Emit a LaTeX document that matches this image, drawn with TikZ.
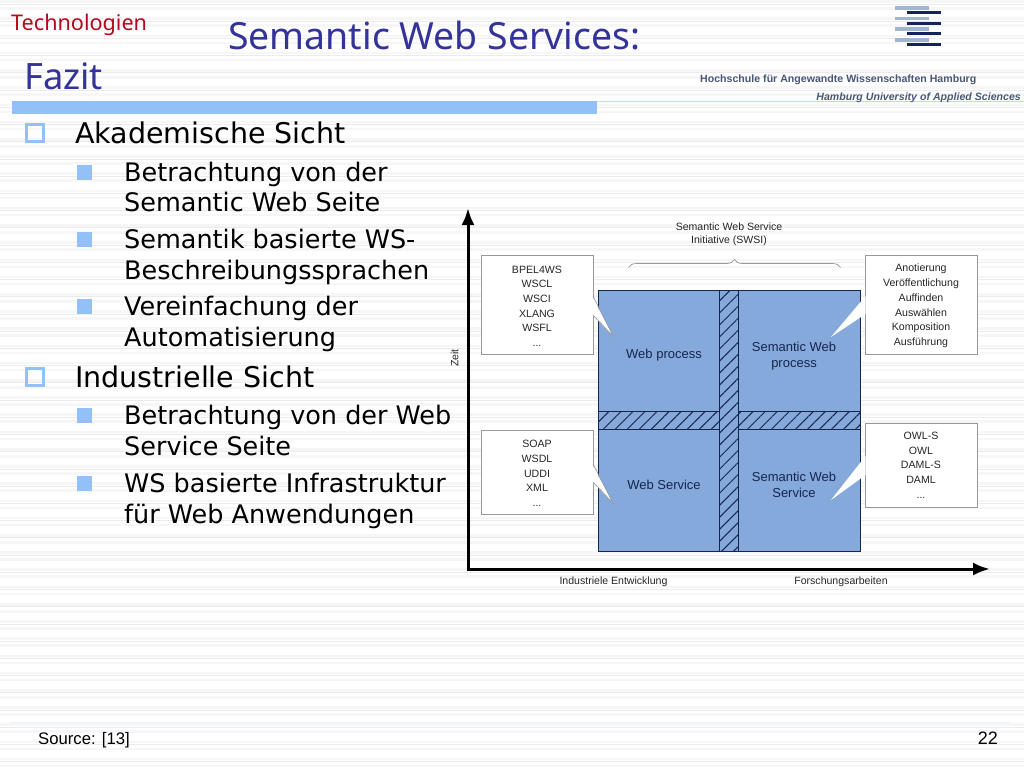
\documentclass[tikz,border=0pt]{standalone}
\usepackage{fontspec}
\setmainfont{Liberation Sans}
\newfontfamily\bodyfont{DejaVu Sans}
\newfontfamily\headfont{Noto Sans}
\usetikzlibrary{patterns.meta,decorations.pathreplacing,arrows.meta}
\definecolor{barblue}{HTML}{94C0F8}
\definecolor{boxblue}{HTML}{86A9DC}
\definecolor{edgeblue}{HTML}{14264E}
\definecolor{titleblue}{HTML}{333399}
\definecolor{techred}{HTML}{B5091E}
\definecolor{logolight}{HTML}{A2B5CE}
\definecolor{logodark}{HTML}{14235E}
\definecolor{logotext}{HTML}{4A5878}
\definecolor{stripelight}{HTML}{F6F6F7}
\definecolor{stripedark}{HTML}{EBEBED}
\newcommand{\firstline}{\rule{0pt}{10.5pt}}
\tikzset{
  quad/.style={draw=edgeblue, fill=boxblue, line width=1pt},
  hatchband/.style={draw=edgeblue, fill=boxblue, line width=1pt, postaction={pattern={Lines[angle=45, distance=8.5pt, line width=1pt]}, pattern color=edgeblue}},
  callbox/.style={draw=gray!80, fill=white, line width=.8pt, inner sep=0pt, font=\fontsize{10.6}{14.7}\selectfont, align=center, text=black!85},
  tiny/.style={font=\fontsize{10.55}{13}\selectfont, align=center, text=black!85},
  boxlabel/.style={font=\fontsize{13}{16}\selectfont, align=center, text=edgeblue},
  bigtext/.style={anchor=base west, font=\bodyfont\fontsize{28.5}{30}\selectfont, inner sep=0pt},
  subtext/.style={anchor=base west, font=\bodyfont\fontsize{25.5}{30.5}\selectfont, inner sep=0pt},
  bigmark/.style={draw=barblue, line width=3pt, minimum size=17pt, inner sep=0pt},
  submark/.style={fill=barblue, minimum size=15pt, inner sep=0pt},
  axisline/.style={line width=3pt, shorten <=-1.5pt, -{Latex[length=17pt, width=13pt]}},
}
\begin{document}
\begin{tikzpicture}[x=1pt, y=-1pt]
  \useasboundingbox (0, 0) rectangle (1024, 768) ;
  \fill[white] (0, 0) rectangle (1024, 768) ;
  \foreach \row in {0, 1, ..., 44} {
    \fill[stripelight] (0, 17.22 * \row + 2.8) rectangle ++ (1024, -2.6) ;
    \fill[stripedark] (0, 17.22 * \row + 4.6) rectangle ++ (1024, -1) ;
    \fill[stripelight] (0, 17.22 * \row + 9.8) rectangle ++ (1024, -2.6) ;
  }

  \fill[barblue] (12, 101) rectangle (597, 114) ;
  \fill[barblue!60] (597, 101) rectangle (1024, 102) ;
  \fill[barblue!20] (10, 721.5) rectangle (1010, 723) ;

  \node[anchor=base west, inner sep=0pt, text=techred, font=\headfont\fontsize{21.6}{24}\selectfont] (section) at (11, 30.5) {Technologien} ;
  \node[anchor=base west, inner sep=0pt, text=titleblue, font=\headfont\fontsize{37.4}{40}\selectfont] (title) at (228, 49) {Semantic Web Services:} ;
  \node[anchor=base west, inner sep=0pt, text=titleblue, font=\headfont\fontsize{36.3}{40}\selectfont] (subtitle) at (24, 89) {Fazit} ;

  \foreach \ypos in {8, 18.5, 29, 40} {
    \fill[logolight] (895, \ypos - 1.8) rectangle (929, \ypos + 1.8) ;
    \fill[logodark] (907, \ypos + 3.2) rectangle (941, \ypos + 6.4) ;
  }
  \node[anchor=base west, inner sep=0pt, text=logotext, font=\fontsize{10.6}{13}\selectfont\bfseries] (school) at (700, 82) {Hochschule für Angewandte Wissenschaften Hamburg} ;
  \node[anchor=base east, inner sep=0pt, text=logotext, font=\fontsize{10.6}{13}\selectfont\bfseries\itshape] (schoolen) at (1021, 100) {Hamburg University of Applied Sciences} ;

  \node[bigmark] (mark1) at (35, 132.5) {} ;
  \node[bigtext] (akad) at (75, 143) {Akademische Sicht} ;
  \node[submark] (mark2) at (84.5, 172) {} ;
  \node[subtext] (akad1a) at (124, 181) {Betrachtung von der} ;
  \node[subtext] (akad1b) at (124, 211) {Semantic Web Seite} ;
  \node[submark] (mark3) at (84.5, 239) {} ;
  \node[subtext] (akad2a) at (124, 248) {Semantik basierte WS-} ;
  \node[subtext] (akad2b) at (124, 279) {Beschreibungssprachen} ;
  \node[submark] (mark4) at (84.5, 306) {} ;
  \node[subtext] (akad3a) at (124, 315) {Vereinfachung der} ;
  \node[subtext] (akad3b) at (124, 346) {Automatisierung} ;
  \node[bigmark] (mark5) at (35, 376.5) {} ;
  \node[bigtext] (indu) at (75, 387) {Industrielle Sicht} ;
  \node[submark] (mark6) at (84.5, 415) {} ;
  \node[subtext] (indu1a) at (124, 424) {Betrachtung von der Web} ;
  \node[subtext] (indu1b) at (124, 455) {Service Seite} ;
  \node[submark] (mark7) at (84.5, 483) {} ;
  \node[subtext] (indu2a) at (124, 492) {WS basierte Infrastruktur} ;
  \node[subtext] (indu2b) at (124, 523) {für Web Anwendungen} ;

  \coordinate (origin) at (468, 569) ;
  \coordinate (timeend) at (468, 208) ;
  \coordinate (workend) at (990, 569) ;
  \draw[axisline] (origin) -- (timeend) ;
  \draw[axisline] (origin) -- (workend) ;
  \node[tiny, rotate=90] (zeit) at (454.5, 358) {Zeit} ;
  \node[tiny] (industry) at (613.5, 582) {Industriele Entwicklung} ;
  \node[tiny] (research) at (841, 582) {Forschungsarbeiten} ;

  \node[tiny] (swsi) at (729, 234) {Semantic Web Service\\Initiative (SWSI)} ;
  \coordinate (braceleft) at (628.5, 267.5) ;
  \coordinate (braceright) at (840.5, 267.5) ;
  \draw[gray!80, line width=.7pt, decorate, decoration={brace, amplitude=8pt}] (braceleft) -- (braceright) ;

  \draw[quad] (598, 290) rectangle (860, 551) ;
  \draw[hatchband] (598, 411) rectangle (860, 429.5) ;
  \draw[hatchband] (719.5, 290) rectangle (738.5, 551) ;
  \node[boxlabel] (webproc) at (664, 355.5) {Web process} ;
  \node[boxlabel] (semproc) at (794, 356) {Semantic Web\\process} ;
  \node[boxlabel] (webserv) at (664, 485) {Web Service} ;
  \node[boxlabel] (semserv) at (794, 485) {Semantic Web\\Service} ;

  \node[callbox, minimum width=112pt, minimum height=99pt] (lang) at (537, 304.5) {\firstline BPEL4WS\\WSCL\\WSCI\\XLANG\\WSFL\\...} ;
  \node[callbox, minimum width=112pt, minimum height=99pt] (tasks) at (921, 304.5) {\firstline Anotierung\\Veröffentlichung\\Auffinden\\Auswählen\\Komposition\\Ausführung} ;
  \node[callbox, minimum width=112pt, minimum height=84pt] (infra) at (537, 472) {\firstline SOAP\\WSDL\\UDDI\\XML\\...} ;
  \node[callbox, minimum width=112pt, minimum height=84pt] (onto) at (921, 465) {OWL-S\\OWL\\DAML-S\\DAML\\...} ;

  \fill[white] (592.5, 297) -- (613, 336) -- (592.5, 315) -- cycle ;
  \draw[gray!80, line width=.6pt] (593, 296) -- (613, 336) -- (593, 315) ;
  \fill[white] (865.5, 296) -- (831, 337) -- (865.5, 314) -- cycle ;
  \fill[white] (592.5, 465) -- (613, 503) -- (592.5, 482) -- cycle ;
  \draw[gray!80, line width=.6pt] (593, 464) -- (613, 503) -- (593, 482) ;
  \fill[white] (865.5, 456) -- (831, 500) -- (865.5, 475) -- cycle ;

  \node[anchor=base west, inner sep=0pt, font=\fontsize{16.7}{18}\selectfont] (source) at (38, 744) {Source: [13]} ;
  \node[anchor=base east, inner sep=0pt, font=\fontsize{18}{18}\selectfont] (pageno) at (998, 744) {22} ;
\end{tikzpicture}
\end{document}
